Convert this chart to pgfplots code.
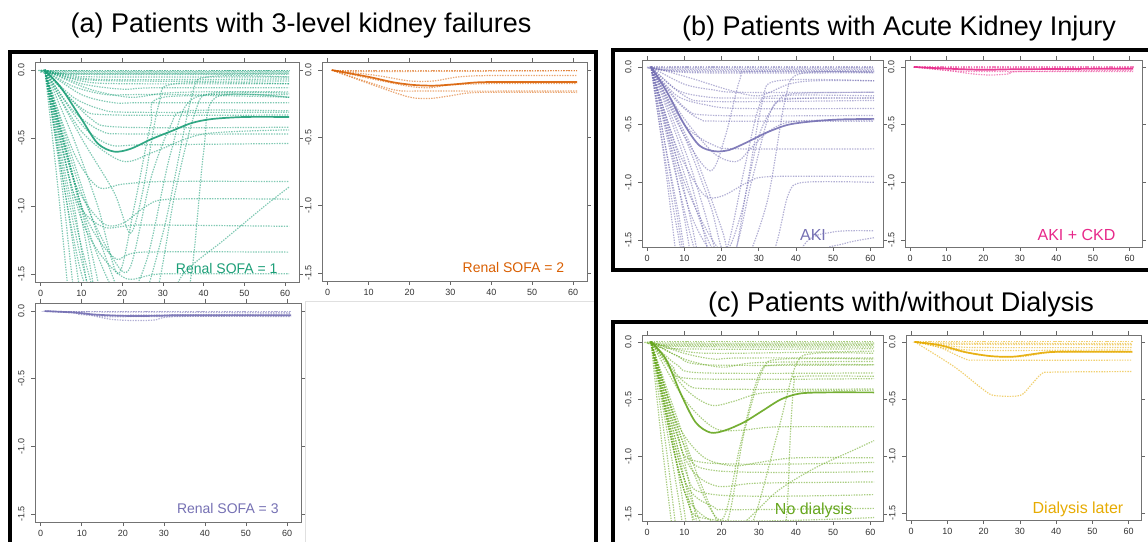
\documentclass[border=0pt]{standalone}
\usepackage{pgfplots}
\pgfplotsset{compat=1.18}
\usepackage{fontspec}
\setmainfont{Liberation Sans}

\definecolor{cA}{HTML}{1B9E77}
\definecolor{cB}{HTML}{D95F02}
\definecolor{cC}{HTML}{7570B3}
\definecolor{cD}{HTML}{E7298A}
\definecolor{cE}{HTML}{66A61E}
\definecolor{cF}{HTML}{E6AB02}

\def\pc{black}
\pgfplotsset{
  panel/.style={
    scale only axis, anchor=south west,
    xmin=-1.4, xmax=63.4, ymin=-1.56, ymax=0.06,
    xtick={0,10,...,60}, ytick={-1.5,-1,-0.5,0},
    tick align=outside, major tick length=4pt,
    axis line style={black!55, line width=0.9pt},
    tick style={black!60, line width=0.6pt},
    xticklabel style={font=\fontsize{9}{9}\selectfont, text=black!80},
    yticklabel style={font=\fontsize{9}{9}\selectfont, text=black!80, rotate=90, anchor=south},
    yticklabel shift=3pt,
    xticklabel shift=1pt,
    yticklabel={\pgfmathprintnumber[fixed,fixed zerofill,precision=1,assume math mode=true]{\tick}},
    xticklabel={\pgfmathprintnumber[assume math mode=true]{\tick}},
    every axis plot/.append style={no marks, smooth},
  },
  traj/.style={color=\pc, opacity=0.55, line width=1.2pt, dash pattern=on 1.4pt off 1.2pt},
  meanline/.style={color=\pc, opacity=0.9, line width=1.7pt},
}
% one patient trajectory, and the group mean
\newcommand{\T}[1]{\addplot[traj] coordinates {#1};}
\newcommand{\M}[1]{\addplot[meanline] coordinates {#1};}
\newcommand{\tag}[3]{\node[anchor=base east, text=\pc, font=\fontsize{#3}{#3}\selectfont] at (axis cs:#1,-1.5) {#2};}

\begin{document}
\begin{tikzpicture}
\useasboundingbox (0pt,0pt) rectangle (1148pt,541pt);
\clip (0pt,0pt) rectangle (1148pt,541pt);

% group titles
\node[anchor=base, font=\fontsize{27}{30}\selectfont] at (301pt,508pt) {(a) Patients with 3-level kidney failures};
\node[anchor=base, font=\fontsize{27}{30}\selectfont] at (899pt,505pt) {(b) Patients with Acute Kidney Injury};
\node[anchor=base, font=\fontsize{27}{30}\selectfont] at (901pt,229pt) {(c) Patients with/without Dialysis};

% group frames
\draw[line width=4pt] (10pt,-10pt) -- (10pt,489pt) -- (596pt,489pt) -- (596pt,-10pt);
\draw[line width=4pt] (613pt,271pt) rectangle (1170pt,491pt);
\draw[line width=4pt] (613pt,-10pt) rectangle (1170pt,219pt);
\draw[black!12, line width=1pt] (305pt,-10pt) |- (594pt,239pt);

% ---------- (a) Renal SOFA = 1 ----------
\def\pc{cA}
\begin{axis}[panel, at={(35pt,259pt)}, width=264pt, height=220pt]
\T{(1,0)(61,0)}
\T{(1,0)(4,-0.005)(61,-0.005)}
\T{(1,0)(5,-0.01)(61,-0.012)}
\T{(1,0)(6,-0.02)(61,-0.02)}
\T{(1,0)(5,-0.025)(61,-0.025)}
\T{(1,0)(7,-0.03)(61,-0.03)}
\T{(1,0)(8,-0.04)(15,-0.05)(61,-0.05)}
\T{(1,0)(8,-0.05)(18,-0.07)(61,-0.065)}
\T{(1,0)(8,-0.06)(20,-0.08)(61,-0.08)}
\T{(1,0)(10,-0.08)(20,-0.1)(61,-0.1)}
\T{(1,0)(10,-0.1)(20,-0.14)(28,-0.13)(61,-0.13)}
\T{(1,0)(12,-0.14)(22,-0.2)(30,-0.17)(40,-0.16)(61,-0.16)}
\T{(1,0)(8,-0.12)(16,-0.18)(24,-0.18)(61,-0.18)}
\T{(1,0)(10,-0.18)(18,-0.24)(25,-0.24)(61,-0.24)}
\T{(1,0)(8,-0.2)(15,-0.29)(22,-0.31)(61,-0.31)}
\T{(1,0)(10,-0.28)(18,-0.33)(61,-0.33)}
\T{(1,0)(12,-0.35)(20,-0.42)(61,-0.42)}
\T{(1,0)(8,-0.3)(15,-0.45)(22,-0.47)(61,-0.47)}
\T{(1,0)(10,-0.4)(17,-0.55)(25,-0.55)(61,-0.54)}
\T{(1,0)(10,-0.45)(20,-0.67)(28,-0.6)(40,-0.47)(61,-0.44)}
\T{(1,0)(8,-0.6)(14,-0.86)(20,-0.84)(30,-0.82)(61,-0.82)}
\T{(1,0)(8,-0.8)(15,-1.12)(20,-1.13)(26,-1.0)(32,-0.95)(61,-0.95)}
\T{(1,0)(8,-0.9)(15,-1.15)(25,-1.14)(61,-1.15)}
\T{(1,0)(10,-1.0)(18,-1.38)(25,-1.34)(61,-1.34)}
\T{(1,0)(10,-1.1)(20,-1.52)(30,-1.5)(61,-1.5)}
\T{(1,0)(10,-0.9)(18,-1.4)(22,-1.45)(27,-0.8)(32,-0.4)(36,-0.3)(61,-0.3)}
\T{(1,0)(12,-1.2)(20,-1.7)(26,-1.4)(32,-0.6)(38,-0.2)(61,-0.2)}
\T{(1,0)(15,-1.3)(23,-1.8)(30,-1.2)(37,-0.2)(41,-0.05)(61,-0.05)}
\T{(1,0)(10,-1.5)(20,-2.0)(30,-1.8)(35,-1.5)(45,-1.25)(55,-1.0)(61,-0.86)}
\T{(1,0)(10,-1.3)(20,-2.2)(28,-1.7)(33,-0.9)(38,-0.3)(42,-0.17)(61,-0.17)}
\T{(1,0)(10,-1.4)(20,-2.3)(32,-2.2)(37,-1.5)(40,-0.6)(43,-0.2)(61,-0.2)}
\T{(1,0)(8,-0.5)(14,-1.0)(19,-1.5)(23,-1.0)(27,-0.4)(30,-0.2)(61,-0.2)}
\T{(1,0)(10,-0.5)(18,-0.9)(22,-1.2)(25,-0.9)(29,-0.25)(33,-0.1)(61,-0.1)}
\T{(1,0)(4,-0.8)(7,-1.7)(10,-2.5)(61,-2.7)}
\T{(1,0)(5,-0.8)(8,-1.6)(12,-2.5)(61,-2.7)}
\T{(1,0)(6,-0.9)(10,-1.7)(14,-2.5)(61,-2.7)}
\T{(1,0)(7,-0.8)(12,-1.7)(16,-2.5)(61,-2.7)}
\T{(1,0)(8,-0.8)(13,-1.6)(17,-2.5)(61,-2.7)}
\T{(1,0)(9,-0.9)(15,-1.7)(19,-2.5)(61,-2.7)}
\M{(1,0)(5,-0.13)(10,-0.36)(14,-0.54)(18,-0.6)(22,-0.58)(27,-0.51)(32,-0.45)(37,-0.39)(42,-0.36)(50,-0.345)(61,-0.345)}
\tag{59}{Renal SOFA = 1}{14}
\end{axis}

% ---------- (a) Renal SOFA = 2 ----------
\def\pc{cB}
\begin{axis}[panel, at={(322pt,260pt)}, width=265pt, height=219pt]
\T{(1,0)(61,0)}
\T{(1,0)(10,-0.01)(61,-0.005)}
\T{(1,0)(12,-0.04)(20,-0.08)(26,-0.08)(32,-0.05)(40,-0.04)(61,-0.04)}
\T{(1,0)(10,-0.06)(20,-0.12)(25,-0.13)(30,-0.11)(40,-0.1)(61,-0.1)}
\T{(1,0)(10,-0.09)(17,-0.15)(25,-0.155)(61,-0.155)}
\T{(1,0)(12,-0.12)(20,-0.2)(25,-0.21)(30,-0.19)(37,-0.165)(61,-0.165)}
\M{(1,0)(10,-0.05)(16,-0.09)(21,-0.11)(26,-0.115)(31,-0.105)(37,-0.09)(45,-0.088)(61,-0.088)}
\tag{58.7}{Renal SOFA = 2}{14}
\end{axis}

% ---------- (a) Renal SOFA = 3 ----------
\def\pc{cC}
\begin{axis}[panel, at={(35pt,19pt)}, width=266pt, height=219pt]
\T{(1,0)(61,0)}
\T{(1,0)(8,-0.005)(61,-0.01)}
\T{(1,0)(8,-0.01)(14,-0.03)(61,-0.02)}
\T{(1,0)(10,-0.02)(17,-0.06)(23,-0.07)(28,-0.065)(33,-0.04)(61,-0.04)}
\T{(1,0)(10,-0.01)(15,-0.04)(25,-0.04)(61,-0.035)}
\M{(1,0)(8,-0.01)(13,-0.025)(20,-0.035)(28,-0.035)(35,-0.03)(61,-0.03)}
\tag{58.8}{Renal SOFA = 3}{14}
\end{axis}

% ---------- (b) AKI ----------
\def\pc{cC}
\begin{axis}[panel, at={(642pt,294pt)}, width=241pt, height=187pt]
\T{(1,0)(61,0)}
\T{(1,0)(5,-0.01)(61,-0.01)}
\T{(1,0)(6,-0.02)(61,-0.02)}
\T{(1,0)(8,-0.03)(61,-0.03)}
\T{(1,0)(10,-0.04)(61,-0.04)}
\T{(1,0)(12,-0.05)(61,-0.05)}
\T{(1,0)(12,-0.1)(22,-0.2)(30,-0.25)(38,-0.15)(45,-0.12)(61,-0.12)}
\T{(1,0)(10,-0.15)(18,-0.2)(25,-0.22)(61,-0.22)}
\T{(1,0)(8,-0.2)(16,-0.26)(25,-0.27)(61,-0.27)}
\T{(1,0)(10,-0.25)(18,-0.3)(61,-0.29)}
\T{(1,0)(8,-0.25)(16,-0.33)(25,-0.36)(61,-0.36)}
\T{(1,0)(10,-0.35)(18,-0.42)(61,-0.42)}
\T{(1,0)(8,-0.3)(14,-0.45)(20,-0.47)(61,-0.47)}
\T{(1,0)(10,-0.45)(18,-0.75)(24,-0.82)(28,-0.7)(33,-0.55)(40,-0.47)(61,-0.46)}
\T{(1,0)(10,-0.5)(18,-0.68)(25,-0.71)(61,-0.71)}
\T{(1,0)(8,-0.7)(15,-1.1)(20,-1.12)(27,-1.0)(33,-0.95)(61,-0.95)}
\T{(1,0)(12,-1.5)(20,-2.2)(30,-2.0)(35,-1.5)(38,-1.1)(42,-1.0)(61,-1.0)}
\T{(1,0)(10,-1.0)(20,-1.6)(25,-1.3)(30,-0.6)(35,-0.3)(40,-0.23)(61,-0.22)}
\T{(1,0)(12,-1.3)(22,-1.7)(28,-1.0)(33,-0.4)(38,-0.28)(61,-0.27)}
\T{(1,0)(15,-1.4)(24,-1.8)(32,-1.2)(37,-0.3)(41,-0.06)(61,-0.05)}
\T{(1,0)(10,-0.6)(17,-0.9)(21,-0.6)(25,-0.1)(28,-0.04)(61,-0.04)}
\T{(1,0)(8,-1.2)(15,-2.2)(35,-2.2)(42,-1.55)(50,-1.43)(61,-1.42)}
\T{(1,0)(8,-1.4)(15,-2.3)(35,-2.3)(45,-1.65)(53,-1.53)(61,-1.48)}
\T{(1,0)(10,-0.6)(17,-1.2)(21,-1.6)(26,-0.9)(30,-0.35)(34,-0.25)(61,-0.25)}
\T{(1,0)(12,-0.7)(20,-1.4)(23,-1.7)(27,-1.0)(31,-0.3)(35,-0.12)(61,-0.12)}
\T{(1,0)(5,-0.9)(8,-1.7)(11,-2.5)(61,-2.7)}
\T{(1,0)(6,-0.9)(10,-1.7)(13,-2.5)(61,-2.7)}
\T{(1,0)(7,-0.8)(12,-1.7)(15,-2.5)(61,-2.7)}
\T{(1,0)(8,-0.8)(14,-1.7)(17,-2.5)(61,-2.7)}
\T{(1,0)(10,-0.8)(17,-1.7)(20,-2.5)(61,-2.7)}
\T{(1,0)(11,-0.8)(19,-1.7)(22,-2.5)(61,-2.7)}
\M{(1,0)(5,-0.2)(10,-0.5)(14,-0.68)(18,-0.73)(22,-0.72)(27,-0.65)(32,-0.57)(38,-0.5)(45,-0.47)(52,-0.455)(61,-0.45)}
\tag{49}{AKI}{16}
\end{axis}

% ---------- (b) AKI + CKD ----------
\def\pc{cD}
\begin{axis}[panel, at={(905pt,294pt)}, width=237pt, height=187pt]
\T{(1,0)(61,0)}
\T{(1,0)(10,-0.01)(61,-0.01)}
\T{(1,0)(10,-0.03)(20,-0.04)(61,-0.04)}
\T{(1,0)(10,-0.03)(17,-0.06)(22,-0.07)(27,-0.06)(30,-0.04)(61,-0.03)}
\M{(1,0)(10,-0.015)(20,-0.025)(30,-0.02)(61,-0.015)}
\tag{57.1}{AKI + CKD}{16}
\end{axis}

% ---------- (c) No dialysis ----------
\def\pc{cE}
\begin{axis}[panel, at={(642pt,20pt)}, width=241pt, height=186pt]
\T{(1,0)(61,0)}
\T{(1,0)(4,-0.01)(61,-0.01)}
\T{(1,0)(5,-0.02)(61,-0.02)}
\T{(1,0)(6,-0.03)(61,-0.03)}
\T{(1,0)(8,-0.04)(61,-0.045)}
\T{(1,0)(8,-0.06)(61,-0.06)}
\T{(1,0)(10,-0.08)(20,-0.1)(61,-0.08)}
\T{(1,0)(10,-0.1)(18,-0.15)(25,-0.14)(61,-0.14)}
\T{(1,0)(8,-0.12)(16,-0.2)(61,-0.2)}
\T{(1,0)(10,-0.15)(20,-0.22)(30,-0.18)(61,-0.17)}
\T{(1,0)(8,-0.2)(15,-0.27)(61,-0.27)}
\T{(1,0)(7,-0.22)(12,-0.32)(61,-0.32)}
\T{(1,0)(10,-0.35)(18,-0.41)(61,-0.41)}
\T{(1,0)(10,-0.4)(17,-0.55)(23,-0.52)(30,-0.45)(40,-0.43)(61,-0.42)}
\T{(1,0)(10,-0.5)(18,-0.75)(25,-0.77)(35,-0.74)(61,-0.74)}
\T{(1,0)(8,-0.7)(15,-1.0)(23,-1.08)(30,-1.05)(40,-1.01)(61,-1.01)}
\T{(1,0)(8,-0.8)(15,-1.05)(61,-1.05)}
\T{(1,0)(10,-0.9)(18,-1.12)(61,-1.13)}
\T{(1,0)(10,-1.0)(18,-1.25)(30,-1.23)(61,-1.22)}
\T{(1,0)(10,-1.1)(18,-1.33)(61,-1.33)}
\T{(1,0)(10,-1.2)(18,-1.44)(20,-1.46)(30,-1.46)(61,-1.45)}
\T{(1,0)(10,-1.3)(18,-1.55)(61,-1.53)}
\T{(1,0)(10,-1.3)(20,-1.6)(25,-1.6)(35,-1.3)(45,-1.1)(55,-0.95)(61,-0.86)}
\T{(1,0)(10,-1.3)(20,-2.0)(35,-2.0)(37.5,-1.5)(38.5,-0.8)(39.5,-0.35)(41,-0.3)(61,-0.3)}
\T{(1,0)(12,-1.1)(20,-1.55)(25,-0.9)(30,-0.29)(35,-0.2)(61,-0.2)}
\T{(1,0)(14,-1.2)(21,-1.6)(26,-0.8)(31,-0.25)(36,-0.15)(61,-0.15)}
\T{(1,0)(10,-1.2)(20,-1.9)(28,-1.6)(35,-0.8)(40,-0.2)(45,-0.1)(61,-0.1)}
\T{(1,0)(4,-0.9)(7,-1.7)(10,-2.5)(61,-2.7)}
\T{(1,0)(5,-0.9)(8,-1.7)(11,-2.5)(61,-2.7)}
\T{(1,0)(6,-0.9)(10,-1.7)(13,-2.5)(61,-2.7)}
\T{(1,0)(7,-0.9)(11,-1.7)(14,-2.5)(61,-2.7)}
\T{(1,0)(8,-0.9)(13,-1.7)(16,-2.5)(61,-2.7)}
\T{(1,0)(9,-0.9)(14,-1.7)(17,-2.5)(61,-2.7)}
\M{(1,0)(5,-0.15)(9,-0.45)(13,-0.7)(17,-0.79)(21,-0.77)(26,-0.7)(31,-0.6)(36,-0.5)(41,-0.45)(48,-0.44)(61,-0.44)}
\tag{56.1}{No dialysis}{16}
\end{axis}

% ---------- (c) Dialysis later ----------
\def\pc{cF}
\begin{axis}[panel, at={(906pt,21pt)}, width=235pt, height=185pt]
\T{(1,0)(61,0)}
\T{(1,0)(8,-0.01)(61,-0.015)}
\T{(1,0)(10,-0.02)(61,-0.025)}
\T{(1,0)(12,-0.04)(20,-0.05)(61,-0.05)}
\T{(1,0)(8,-0.03)(15,-0.07)(30,-0.075)(61,-0.07)}
\T{(1,0)(10,-0.06)(20,-0.12)(30,-0.13)(40,-0.09)(61,-0.09)}
\T{(1,0)(8,-0.05)(15,-0.15)(20,-0.16)(61,-0.16)}
\T{(1,0)(12,-0.22)(20,-0.42)(23,-0.47)(30,-0.47)(33,-0.38)(36,-0.28)(39,-0.265)(61,-0.26)}
\M{(1,0)(8,-0.03)(15,-0.09)(22,-0.125)(28,-0.13)(33,-0.11)(38,-0.09)(45,-0.087)(61,-0.087)}
\tag{59.5}{Dialysis later}{16}
\end{axis}
\end{tikzpicture}
\end{document}
